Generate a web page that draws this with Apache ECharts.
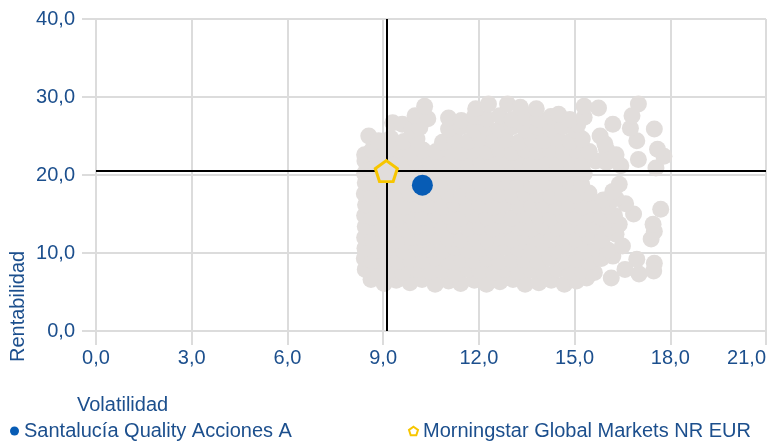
<!DOCTYPE html>
<html>
<head>
<meta charset="utf-8">
<script src="https://cdn.jsdelivr.net/npm/echarts@6/dist/echarts.min.js"></script>
<style>
html, body { margin: 0; padding: 0; background: #fff; }
#chart { width: 769px; height: 442px; }
</style>
</head>
<body>
<div id="chart"></div>
<script>
// names
const fundName = 'Santalucía Quality Acciones A'
const benchName = 'Morningstar Global Markets NR EUR'
const xName = 'Volatilidad'
const yName = 'Rentabilidad'

// axis ticks
const xTicks = [0, 3, 6, 9, 12, 15, 18, 21]
const yTicks = [0, 10, 20, 30, 40]

// [volatilidad, rentabilidad]
const fundPoint = [10.23, 18.7]
const benchPoint = [9.1, 20.5]

// peer group (category funds)
const peers = [
  [8.62,6.6],[9.03,6.1],[9.41,6.5],[9.84,6.2],[10.22,6.6],[10.63,6.0],[11.05,6.4],[11.43,6.1],[11.86,6.5],[12.24,6.0],
  [12.66,6.3],[13.07,6.6],[13.45,6.0],[13.88,6.2],[14.27,6.5],[14.68,6.0],[15.06,6.4],[15.38,6.8],[16.15,6.8],
  [8.44,7.9],[8.86,7.6],[9.27,7.8],[9.63,7.5],[10.06,7.9],[10.47,7.6],[10.84,7.8],[11.26,7.4],[11.67,7.9],[12.04,7.7],
  [12.46,7.5],[12.83,7.9],[13.24,7.6],[13.66,7.8],[14.05,7.4],[14.47,7.9],[14.86,7.6],[15.24,7.8],[15.62,7.5],
  [16.58,7.9],[17.02,7.3],[17.48,7.7],
  [8.41,9.3],[8.66,9.0],[9.05,9.3],[9.47,8.9],[9.85,9.2],[10.26,9.0],[10.64,9.4],[11.05,8.9],[11.46,9.2],[11.85,9.0],
  [12.27,9.3],[12.64,8.9],[13.06,9.2],[13.45,9.1],[13.86,8.9],[14.24,9.3],[14.65,9.0],[15.06,9.2],[15.46,8.9],[15.84,9.3],
  [16.2,9.6],[16.95,9.2],[17.5,8.7],
  [8.43,10.6],[8.85,10.4],[9.26,10.7],[9.64,10.3],[10.05,10.6],[10.44,10.5],[10.86,10.3],[11.25,10.7],[11.64,10.4],
  [12.07,10.6],[12.45,10.3],[12.86,10.7],[13.25,10.5],[13.64,10.3],[14.06,10.6],[14.45,10.4],[14.84,10.7],[15.26,10.3],
  [15.65,10.6],[16.04,10.4],[16.5,10.9],
  [8.42,12.0],[8.67,11.8],[9.04,12.1],[9.46,11.7],[9.86,12.0],[10.25,11.8],[10.66,12.1],[11.04,11.9],[11.45,11.7],
  [11.87,12.1],[12.26,11.8],[12.65,12.0],[13.04,11.7],[13.46,12.1],[13.85,11.9],[14.26,11.7],[14.64,12.0],[15.05,11.8],
  [15.45,12.1],[15.86,11.7],[16.3,12.4],[17.4,11.8],
  [8.44,13.4],[8.84,13.2],[9.25,13.5],[9.66,13.1],[10.04,13.4],[10.46,13.3],[10.85,13.1],[11.24,13.5],[11.66,13.2],
  [12.05,13.4],[12.44,13.1],[12.85,13.5],[13.26,13.3],[13.65,13.1],[14.04,13.4],[14.46,13.2],[14.85,13.5],[15.24,13.1],
  [15.66,13.4],[16.05,13.2],[16.4,13.7],[17.5,12.8],[17.46,13.7],
  [8.42,14.8],[8.66,14.6],[9.06,14.9],[9.45,14.5],[9.84,14.8],[10.26,14.6],[10.65,14.9],[11.06,14.7],[11.44,14.5],
  [11.85,14.9],[12.25,14.6],[12.66,14.8],[13.05,14.5],[13.44,14.9],[13.86,14.7],[14.25,14.5],[14.66,14.8],[15.04,14.6],
  [15.45,14.9],[15.85,14.5],[16.25,14.8],[16.85,15.0],
  [8.45,16.2],[8.86,16.0],[9.24,16.3],[9.65,15.9],[10.06,16.2],[10.45,16.1],[10.84,15.9],[11.26,16.3],[11.65,16.0],
  [12.04,16.2],[12.46,15.9],[12.84,16.3],[13.25,16.1],[13.66,15.9],[14.05,16.2],[14.44,16.0],[14.86,16.3],[15.25,15.9],
  [15.64,16.2],[16.04,16.0],[16.6,16.3],[17.7,15.6],
  [8.41,17.6],[8.65,17.4],[9.05,17.7],[9.46,17.3],[9.85,17.6],[10.26,17.4],[10.64,17.7],[11.05,17.5],[11.46,17.3],
  [11.84,17.7],[12.26,17.4],[12.65,17.6],[13.06,17.3],[13.44,17.7],[13.85,17.5],[14.26,17.3],[14.64,17.6],[15.05,17.4],
  [15.45,17.7],[15.9,16.8],[16.3,17.0],
  [8.44,19.0],[8.85,18.8],[9.26,19.1],[9.64,18.7],[10.05,19.0],[10.45,18.9],[10.84,18.7],[11.26,19.1],[11.66,18.8],
  [12.05,19.0],[12.45,18.7],[12.86,19.1],[13.24,18.9],[13.65,18.7],[14.04,19.0],[14.46,18.8],[14.85,19.1],[15.22,18.8],
  [16.2,17.9],[16.4,18.8],
  [8.42,20.2],[8.66,20.4],[9.05,20.1],[9.46,20.5],[9.85,20.2],[10.24,20.4],[10.65,20.1],[11.06,20.5],[11.45,20.3],
  [11.86,20.1],[12.25,20.5],[12.64,20.2],[13.05,20.4],[13.46,20.1],[13.84,20.5],[14.26,20.3],[14.65,20.1],[15.04,20.4],
  [15.3,20.2],[17.55,20.9],
  [8.43,21.8],[8.84,21.6],[9.25,21.9],[9.66,21.5],[10.04,21.8],[10.46,21.7],[10.85,21.5],[11.24,21.9],[11.65,21.6],
  [12.06,21.8],[12.44,21.5],[12.85,21.9],[13.26,21.7],[13.64,21.5],[14.05,21.8],[14.46,21.6],[14.84,21.9],[15.25,21.5],
  [15.66,21.8],[16.0,21.6],[16.45,21.2],[17.0,22.0],[17.8,22.4],
  [8.42,22.6],[8.65,23.2],[9.06,23.0],[9.45,23.3],[9.86,22.9],[10.25,23.2],[10.66,23.0],[11.05,23.3],[11.44,22.9],
  [11.86,23.2],[12.26,23.0],[12.64,23.3],[13.05,22.9],[13.46,23.2],[13.85,23.0],[14.24,23.3],[14.66,22.9],[15.05,23.2],
  [15.46,23.0],[16.0,23.3],[16.3,22.6],[17.6,23.3],
  [8.55,25.0],[8.86,24.4],[9.24,24.7],[9.65,24.3],[10.06,24.6],[10.86,24.2],[11.24,24.6],[11.66,24.3],[12.05,24.7],
  [12.46,24.4],[12.84,24.6],[13.25,24.2],[13.66,24.6],[14.04,24.4],[14.45,24.7],[14.86,24.3],[15.24,24.6],[15.8,25.0],
  [15.95,24.0],[16.95,24.4],
  [9.3,26.7],[9.6,26.5],[9.9,25.8],[10.15,26.1],[11.05,25.9],[11.45,26.2],[11.84,25.8],[12.25,26.1],[12.66,25.9],
  [13.05,26.2],[13.45,25.8],[13.86,26.1],[14.25,25.9],[14.64,26.2],[15.05,25.7],[15.1,26.5],[16.2,26.5],[16.75,26.0],
  [17.5,25.9],
  [10.0,27.6],[10.4,27.2],[11.05,27.3],[11.45,27.0],[11.86,27.5],[12.24,27.2],[12.65,27.6],[13.04,27.1],[13.45,27.4],
  [13.84,27.2],[14.26,27.5],[14.5,27.8],[14.85,27.1],[15.3,27.4],[16.8,27.6],
  [10.3,28.8],[11.9,28.5],[12.3,29.1],[12.9,29.1],[13.3,28.7],[13.8,28.5],[15.3,28.8],[15.75,28.6],[17.0,29.1]
]

const pentagon = 'path://M50,0L100,36.3L80.9,95.1L19.1,95.1L0,36.3Z'
const font = 'Liberation Sans, Arial, sans-serif'
const txtColor = '#1c4f8d'
const gridColor = '#dcdcdc'

const fmt = v => v.toFixed(1).replace('.', ',')

let myChart = echarts.init(document.getElementById('chart'), null, { renderer: 'canvas' })

let option = {
  animation: false,
  grid: { left: 96, right: 1, top: 19, bottom: 111 },
  xAxis: {
    type: 'value',
    min: xTicks[0],
    max: xTicks[xTicks.length - 1],
    interval: xTicks[1] - xTicks[0],
    axisLine: { show: false },
    axisTick: { show: true, length: 14, lineStyle: { color: gridColor, width: 2 } },
    splitLine: { show: true, lineStyle: { color: gridColor, width: 2 } },
    axisLabel: {
      margin: 17, color: txtColor, fontFamily: font, fontSize: 20,
      formatter: fmt, alignMaxLabel: 'right'
    }
  },
  yAxis: {
    type: 'value',
    min: yTicks[0],
    max: yTicks[yTicks.length - 1],
    interval: yTicks[1] - yTicks[0],
    axisLine: { show: false },
    axisTick: { show: true, length: 14, lineStyle: { color: gridColor, width: 2 } },
    splitLine: { show: true, lineStyle: { color: gridColor, width: 2 } },
    axisLabel: {
      margin: 21, color: txtColor, fontFamily: font, fontSize: 20,
      formatter: fmt, padding: [6, 0, 0, 0]
    }
  },
  legend: [
    {
      left: 10, top: 421, padding: 0, itemWidth: 9, itemHeight: 9,
      textStyle: { color: txtColor, fontFamily: font, fontSize: 20 },
      data: [{ name: fundName, icon: 'circle' }]
    },
    {
      left: 408, top: 421, padding: 0, itemWidth: 9, itemHeight: 9,
      textStyle: { color: txtColor, fontFamily: font, fontSize: 20 },
      data: [{ name: benchName, icon: pentagon,
        itemStyle: { color: '#fff', borderColor: '#f7c600', borderWidth: 2 } }]
    }
  ],
  graphic: [
    {
      type: 'text', left: 77, top: 395,
      style: { text: xName, fill: txtColor, font: '20px ' + font }
    },
    {
      type: 'text', x: 8, y: 362, rotation: Math.PI / 2,
      style: { text: yName, fill: txtColor, font: '20px ' + font }
    }
  ],
  series: [
    {
      name: 'peers',
      type: 'scatter',
      z: 2,
      symbolSize: 17,
      itemStyle: { color: '#e1dddb', opacity: 1 },
      emphasis: { disabled: true },
      data: peers
    },
    {
      name: 'cross',
      type: 'scatter',
      z: 3,
      data: [],
      markLine: {
        silent: true,
        symbol: 'none',
        label: { show: false },
        lineStyle: { color: '#000', width: 2, type: 'solid' },
        data: [{ xAxis: benchPoint[0] }, { yAxis: benchPoint[1] }]
      }
    },
    {
      name: fundName,
      type: 'scatter',
      z: 4,
      symbol: 'circle',
      symbolSize: 21,
      itemStyle: { color: '#075cb5', opacity: 1 },
      data: [fundPoint]
    },
    {
      name: benchName,
      type: 'scatter',
      z: 5,
      symbol: pentagon,
      symbolSize: [22, 21],
      itemStyle: { color: '#e1dddb', borderColor: '#f7c600', borderWidth: 3, opacity: 1 },
      data: [benchPoint]
    }
  ]
}

myChart.setOption(option)
</script>
</body>
</html>
